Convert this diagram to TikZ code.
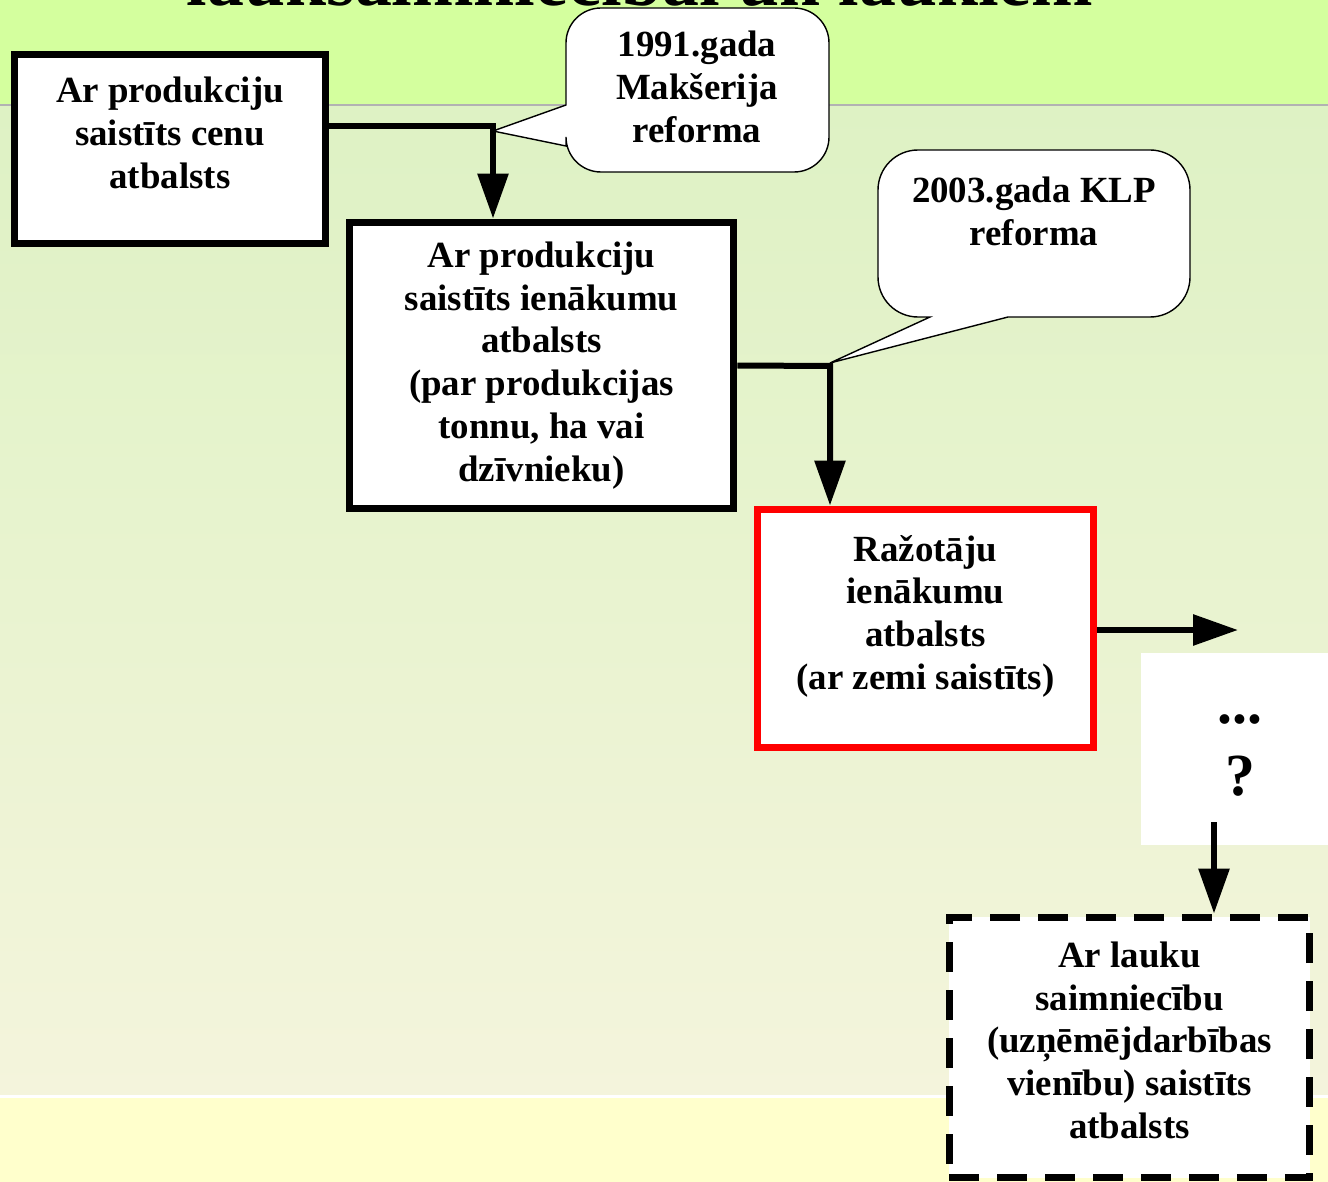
\documentclass[tikz,border=0pt]{standalone}
\usepackage{fontspec}
\setmainfont{Liberation Serif}
\usetikzlibrary{arrows.meta, positioning}

\definecolor{bandtop}{RGB}{212,255,158}
\definecolor{gradtop}{RGB}{222,242,196}
\definecolor{gradbot}{RGB}{244,244,220}
\definecolor{bandbot}{RGB}{255,255,204}

\begin{document}
\begin{tikzpicture}[x=0.02cm, y=-0.02cm,
	every node/.style={font=\bfseries\fontsize{21}{24.4}\selectfont, align=center},
	box/.style={draw, fill=white, line width=0.14cm, inner sep=0pt},
	bubble/.style={draw, fill=white, line width=0.8pt},
	link/.style={line width=0.12cm, -{Triangle[length=0.9cm, width=0.6cm]}}]
		\clip (0,0) rectangle (1328,1182);
		\useasboundingbox (0,0) rectangle (1328,1182);
		% background
		\fill[bandtop] (0,0) rectangle (1328,105);
		\shade[top color=gradtop, bottom color=gradbot] (0,106) rectangle (1328,1095);
		\draw[black!30, line width=0.04cm] (0,105) -- (1328,105);
		\fill[white] (0,1095) rectangle (1328,1098);
		\fill[bandbot] (0,1098) rectangle (1328,1182);
		\node[font=\bfseries\fontsize{42}{50}\selectfont, anchor=base] (title) at (640,6) {lauksaimniecībai un laukiem};
		
		% callouts
		\draw[bubble] (566,105) [rounded corners=0.7cm] -- (566,8) -- (829,8) -- (829,172) -- (566,172) [sharp corners] -- (566,146) -- (493,131) -- cycle;
		\draw[bubble] (930,317) [rounded corners=0.8cm] -- (878,317) -- (878,150) -- (1190,150) -- (1190,317) [sharp corners] -- (1008,317) -- (830,363) -- cycle;
		\node (b1) at (697,87) {1991.gada\\Makšerija\\reforma};
		\node (b2) at (1034,211) {2003.gada KLP\\reforma};
		
		% boxes
		\node[box, minimum width=6.24cm, minimum height=3.8cm] (1) at (170,149) {Ar produkciju\\saistīts cenu\\atbalsts\\[-6pt]\mbox{}};
		\node[box, minimum width=7.7cm, minimum height=5.74cm] (2) at (541.5,365.5) {Ar produkciju\\saistīts ienākumu\\atbalsts\\(par produkcijas\\tonnu, ha vai\\dzīvnieku)};
		\node[box, draw=red, minimum width=6.74cm, minimum height=4.78cm] (3) at (925.5,628.5) {Ražotāju\\ienākumu\\atbalsts\\(ar zemi saistīts)\\[-6pt]\mbox{}};
		\node[fill=white, minimum width=3.96cm, minimum height=3.84cm, font=\bfseries\fontsize{34}{41}\selectfont] (q) at (1240,749) {\mbox{}\\[-29pt]...\\?};
		\node[box, dash pattern=on 0.6cm off 0.36cm, minimum width=7.22cm, minimum height=5.22cm] (4) at (1129.5,1047.5) {Ar lauku\\saimniecību\\(uzņēmējdarbības\\vienību) saistīts\\atbalsts\\[-16pt]\mbox{}};
		
		% connectors
		\coordinate (k1) at (493,126);
		\coordinate (k2) at (830,366);
		\coordinate (k3) at (1238,630);
		\coordinate (k4) at (1214,822);
		\draw[link] (1.east |- k1) -- (k1) -- (k1 |- 2.north);
		\draw[link] (2.east) -- (k2) -- (k2 |- 3.north);
		\draw[link] (3.east |- k3) -- (k3);
		\draw[link] (k4) -- (k4 |- 4.north);
	\end{tikzpicture}
\end{document}
